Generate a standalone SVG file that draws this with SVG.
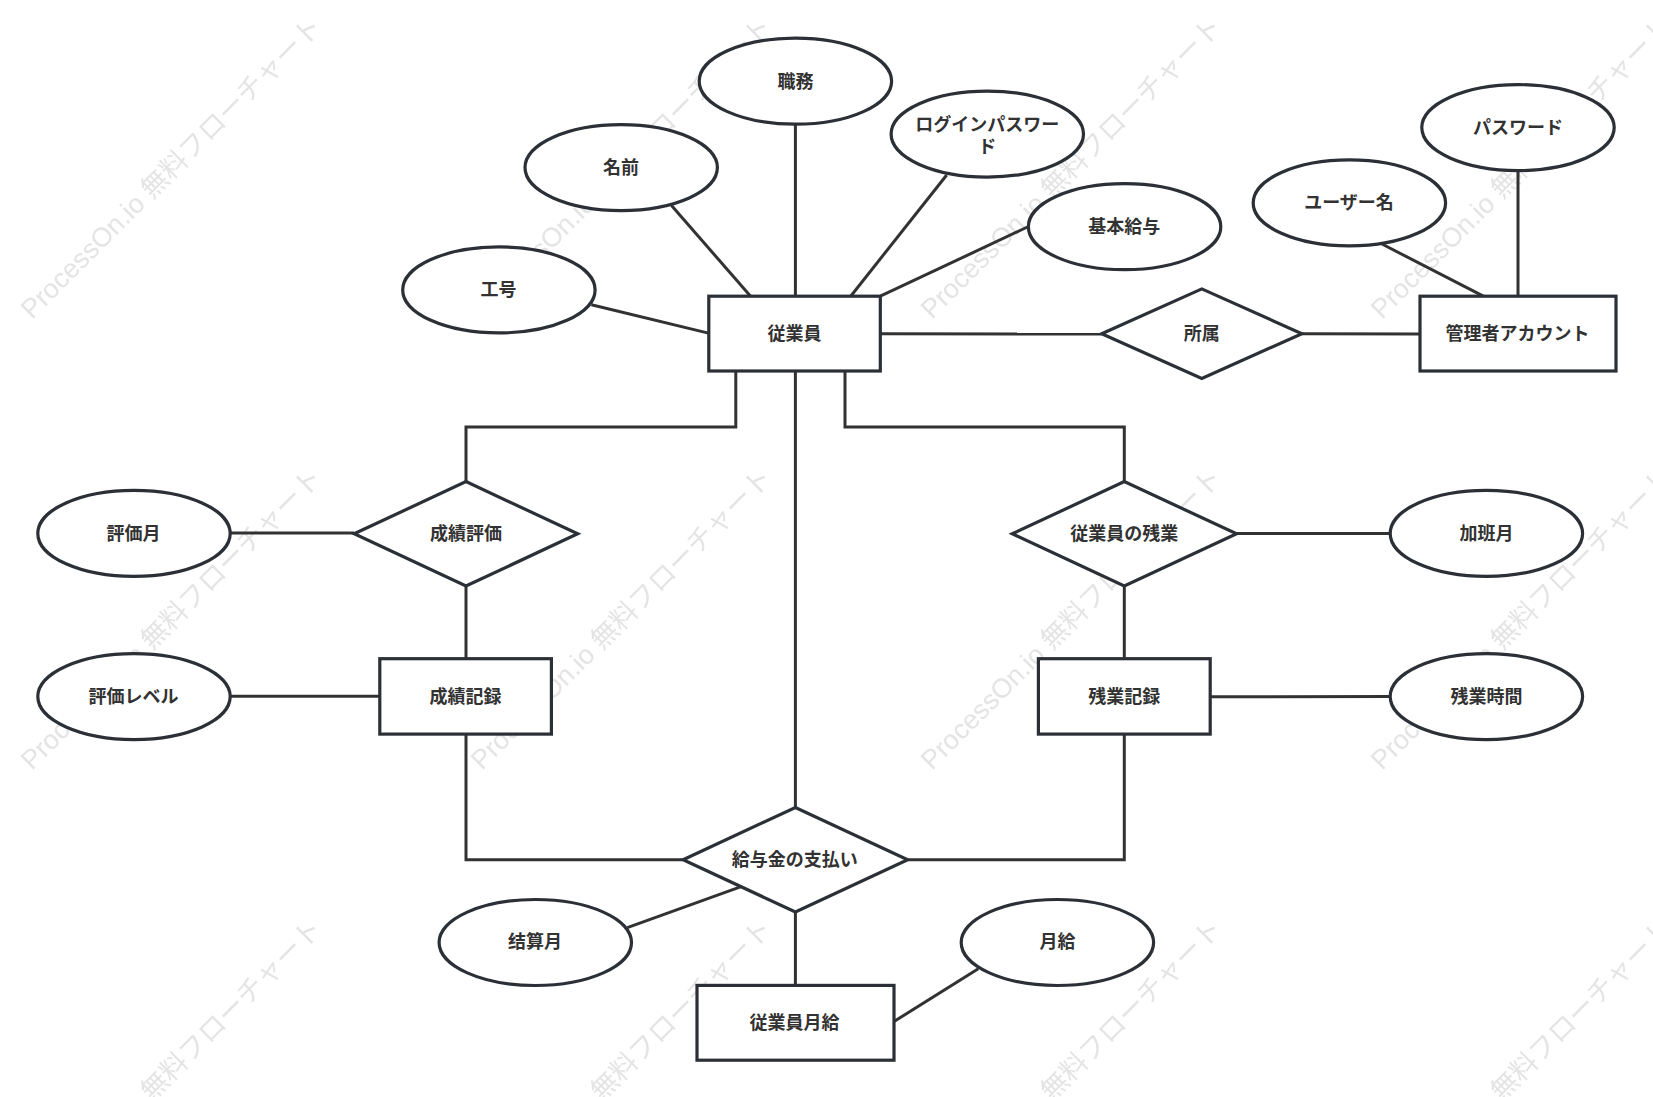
<svg xmlns="http://www.w3.org/2000/svg" width="1653" height="1097" viewBox="0 0 1653 1097">
<style>
.wm{font-family:"Liberation Sans","Noto Sans CJK JP",sans-serif;font-size:27px;fill:#e4e4e4}
.c{fill:none;stroke:#323232;stroke-width:3}
.n{fill:#fff;stroke:#2b3036;stroke-width:3.2}
.t{font-family:"Noto Sans CJK JP","Noto Sans CJK SC",sans-serif;font-size:18px;font-weight:700;fill:#323232;text-anchor:middle;dominant-baseline:central}
</style>
<defs>
<pattern id="wm-tile" patternUnits="userSpaceOnUse" x="0" y="0" width="450" height="451">
<text class="wm" transform="translate(32,320) rotate(-45)">ProcessOn.io 無料フローチャート</text>
</pattern>
</defs>
<rect width="1653" height="1097" fill="#fff"/>
<rect id="watermark" width="1653" height="1097" fill="url(#wm-tile)"/>
<g id="connectors">
<path class="c" d="M591.4 304.7L708.4 333.1"/>
<path class="c" d="M671.5 205.6L750.6 296.2"/>
<path class="c" d="M795.4 124V296"/>
<path class="c" d="M946.7 175L850.7 296.2"/>
<path class="c" d="M1028.5 226.5L880.3 296.2"/>
<path class="c" d="M880 333.7L1101.7 334"/>
<path class="c" d="M1302 333.7L1420 334"/>
<path class="c" d="M1381 243.5L1483.3 296.2"/>
<path class="c" d="M1518 171V296"/>
<path class="c" d="M735.8 371V427H466V481.8"/>
<path class="c" d="M845 371V427H1124.3V481.8"/>
<path class="c" d="M795.4 371V807.5"/>
<path class="c" d="M229.8 533H354.2"/>
<path class="c" d="M466 586V659"/>
<path class="c" d="M230 696.3H379.5"/>
<path class="c" d="M466 734.3V859.7H683.1"/>
<path class="c" d="M1124.3 734.3V859.7H907.7"/>
<path class="c" d="M1236.6 533.4H1390"/>
<path class="c" d="M1124.3 586V659"/>
<path class="c" d="M1210 696.7L1390 696.5"/>
<path class="c" d="M627.3 927.7L741.1 886.6"/>
<path class="c" d="M795.4 912V985.7"/>
<path class="c" d="M894 1021.5L978.3 968.8"/>
</g>
<g id="n-shokumu"><ellipse class="n" cx="795.4" cy="81.2" rx="96.2" ry="43"/><text class="t" x="795.4" y="79.7">職務</text></g>
<g id="n-namae"><ellipse class="n" cx="621.2" cy="167.6" rx="96.2" ry="43"/><text class="t" x="620.9" y="165.8">名前</text></g>
<g id="n-kogo"><ellipse class="n" cx="498.9" cy="289.9" rx="96.2" ry="43"/><text class="t" x="498.6" y="288">工号</text></g>
<g id="n-login"><ellipse class="n" cx="987.3" cy="134.1" rx="96.2" ry="43"/><text class="t" x="987.3" y="122.9">ログインパスワー<tspan x="987.3" dy="22.2">ド</tspan></text></g>
<g id="n-kihon"><ellipse class="n" cx="1124.6" cy="226.7" rx="96.2" ry="43"/><text class="t" x="1124.3" y="225.3">基本給与</text></g>
<g id="n-password"><ellipse class="n" cx="1518" cy="127.6" rx="96.2" ry="43"/><text class="t" x="1518" y="126.2">パスワード</text></g>
<g id="n-username"><ellipse class="n" cx="1349.4" cy="202.9" rx="96.2" ry="43"/><text class="t" x="1349" y="201.2">ユーザー名</text></g>
<g id="n-hyokatsuki"><ellipse class="n" cx="134" cy="533.4" rx="96.2" ry="43"/><text class="t" x="133.4" y="531.8">評価月</text></g>
<g id="n-hyokalevel"><ellipse class="n" cx="134" cy="696.6" rx="96.2" ry="43"/><text class="t" x="133.4" y="695.2">評価レベル</text></g>
<g id="n-kahangetsu"><ellipse class="n" cx="1486.4" cy="533.4" rx="96.2" ry="43"/><text class="t" x="1486.4" y="531.8">加班月</text></g>
<g id="n-zangyojikan"><ellipse class="n" cx="1486.4" cy="696.6" rx="96.2" ry="43"/><text class="t" x="1486.4" y="695.2">残業時間</text></g>
<g id="n-kessan"><ellipse class="n" cx="535.3" cy="942.5" rx="96.2" ry="43"/><text class="t" x="535" y="940">结算月</text></g>
<g id="n-gekkyu"><ellipse class="n" cx="1057.4" cy="942.5" rx="96.2" ry="43"/><text class="t" x="1057.4" y="940">月給</text></g>
<g id="n-jugyoin"><rect class="n" x="708.8" y="296.2" width="171.5" height="74.8"/><text class="t" x="794.5" y="332.3">従業員</text></g>
<g id="n-kanrisha"><rect class="n" x="1420" y="296.2" width="196" height="74.8"/><text class="t" x="1517.6" y="332.3">管理者アカウント</text></g>
<g id="n-seiseki"><rect class="n" x="379.8" y="658.7" width="171.6" height="75.4"/><text class="t" x="465.5" y="695.4">成績記録</text></g>
<g id="n-zangyo"><rect class="n" x="1038.4" y="658.7" width="171.8" height="75.4"/><text class="t" x="1124.3" y="695.4">残業記録</text></g>
<g id="n-gekkyurec"><rect class="n" x="697" y="985.4" width="197" height="74.8"/><text class="t" x="794.6" y="1021.2">従業員月給</text></g>
<g id="n-shozoku"><polygon class="n" points="1101.7,333.7 1201.8,288.9 1301.9,333.7 1201.8,378.5"/><text class="t" x="1201.8" y="332.4">所属</text></g>
<g id="n-hyoka"><polygon class="n" points="354.2,533.8 466,481.6 577.7,533.8 466,586"/><text class="t" x="466" y="532.3">成績評価</text></g>
<g id="n-zangyorel"><polygon class="n" points="1012.3,533.8 1124.3,481.6 1236.6,533.8 1124.3,586"/><text class="t" x="1124.3" y="532.3">従業員の残業</text></g>
<g id="n-shiharai"><polygon class="n" points="683.1,859.7 795.4,807.5 907.7,859.7 795.4,912"/><text class="t" x="794.8" y="858.2">給与金の支払い</text></g>
</svg>
